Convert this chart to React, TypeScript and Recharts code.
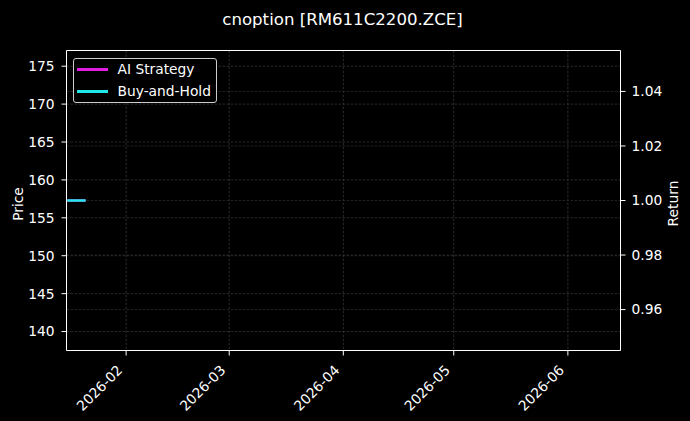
import React from 'react';
import { LineChart, Line, XAxis, YAxis, CartesianGrid, Legend, ReferenceLine } from 'recharts';

// ---- data ----
const dates = ['2026-01-16', '2026-01-19', '2026-01-20', '2026-01-21'];
const aiStrategy = [1.0, 1.0, 1.0, 1.0];
const buyAndHold = [1.0, 1.0, 1.0, 1.0];
const seriesNames = ['AI Strategy', 'Buy-and-Hold'];
const xTickLabels = ['2026-02', '2026-03', '2026-04', '2026-05', '2026-06'];
const priceTicks = [140, 145, 150, 155, 160, 165, 170, 175];
const returnTicks = [0.96, 0.98, 1.0, 1.02, 1.04];
const titleText = 'cnoption [RM611C2200.ZCE]';
const leftLabel = 'Price';
const rightLabel = 'Return';

// ---- derived ----
const data = dates.map((d, i) => ({
  t: Date.parse(d + 'T00:00:00Z'),
  ai: aiStrategy[i],
  bh: buyAndHold[i],
}));
const xTicks = xTickLabels.map((s) => Date.parse(s + '-01T00:00:00Z'));
const xDomain = [Date.parse('2026-01-15T19:12:00Z'), Date.parse('2026-06-15T07:12:00Z')];
const priceDomain = [137.5, 177.07];
const returnDomain = [0.945, 1.055];

const FONT = '"DejaVu Sans", sans-serif';
const FS = 13.8;
const COLORS = ['#e31ee3', '#1ee8e8'];

const fmtMonth = (v: number) => {
  const d = new Date(v);
  return `${d.getUTCFullYear()}-${String(d.getUTCMonth() + 1).padStart(2, '0')}`;
};

const XTick = (props: any) => {
  const { x, y, payload } = props;
  return (
    <text
      transform={`translate(${x - 2.8},${y + 15.5}) rotate(-45)`}
      textAnchor="end"
      fill="#ffffff"
      fontSize={FS}
      fontFamily={FONT}
    >
      {fmtMonth(payload.value)}
    </text>
  );
};

const LegendBox = () => (
  <div
    style={{
      border: '1px solid #cccccc',
      borderRadius: 3,
      background: '#000000',
      width: 142,
      height: 43,
      boxSizing: 'content-box',
      fontFamily: FONT,
      fontSize: FS,
      color: '#ffffff',
    }}
  >
    {seriesNames.map((n, i) => (
      <div key={n} style={{ height: 21.5, display: 'flex', alignItems: 'center' }}>
        <div style={{ width: 31, height: 3, background: COLORS[i], marginLeft: 3 }} />
        <span style={{ marginLeft: 9.5, lineHeight: '21px', whiteSpace: 'nowrap' }}>{n}</span>
      </div>
    ))}
  </div>
);

export default function App() {
  return (
    <div style={{ position: 'relative', width: 690, height: 421, background: '#000000' }}>
      <style>{`body{margin:0;background:#000;}`}</style>
      <LineChart
        width={690}
        height={421}
        data={data}
        margin={{ top: 50.5, right: 0, bottom: 0, left: 0 }}
        style={{ fontFamily: FONT }}
      >
        <CartesianGrid
          yAxisId="left"
          stroke="#363636"
          strokeDasharray="2.5 1.5"
          strokeWidth={0.8}
          horizontal
          vertical
        />
        <CartesianGrid
          yAxisId="right"
          stroke="#2a2a2a"
          strokeDasharray="2.5 1.5"
          strokeWidth={0.8}
          horizontal
          vertical={false}
        />
        <XAxis
          dataKey="t"
          type="number"
          scale="time"
          domain={xDomain}
          ticks={xTicks}
          allowDataOverflow
          height={70.5}
          stroke="#ffffff"
          tickSize={5}
          tickMargin={0}
          tick={<XTick />}
          interval={0}
        />
        <YAxis
          yAxisId="left"
          orientation="left"
          type="number"
          domain={priceDomain}
          ticks={priceTicks}
          allowDataOverflow
          width={66.5}
          stroke="#ffffff"
          tickSize={5}
          tickMargin={7}
          interval={0}
          tick={{ fill: '#ffffff', fontSize: FS, fontFamily: FONT }}
        />
        <YAxis
          yAxisId="right"
          orientation="right"
          type="number"
          domain={returnDomain}
          ticks={returnTicks}
          allowDataOverflow
          width={69.5}
          stroke="#ffffff"
          tickSize={5}
          tickMargin={6}
          interval={0}
          tickFormatter={(v: number) => v.toFixed(2)}
          tick={{ fill: '#ffffff', fontSize: FS, fontFamily: FONT }}
        />
        <ReferenceLine yAxisId="left" y={priceDomain[1]} stroke="#ffffff" strokeWidth={1} ifOverflow="extendDomain" />
        <Line
          yAxisId="right"
          dataKey="ai"
          name={seriesNames[0]}
          stroke={COLORS[0]}
          strokeWidth={2.5}
          dot={false}
          isAnimationActive={false}
        />
        <Line
          yAxisId="right"
          dataKey="bh"
          name={seriesNames[1]}
          stroke={COLORS[1]}
          strokeWidth={2.5}
          dot={false}
          isAnimationActive={false}
        />
        <Legend
          layout="vertical"
          align="center"
          verticalAlign="middle"
          content={() => <LegendBox />}
          wrapperStyle={{ left: 73, top: 58, width: 'auto', height: 'auto' }}
        />
      </LineChart>
      <svg
        width={690}
        height={421}
        style={{ position: 'absolute', left: 0, top: 0, pointerEvents: 'none' }}
      >
        <text x={342.5} y={24.5} textAnchor="middle" fill="#ffffff" fontSize={16.6} fontFamily={FONT}>
          {titleText}
        </text>
        <text
          transform="translate(22.5,204) rotate(-90)"
          textAnchor="middle"
          fill="#ffffff"
          fontSize={FS}
          fontFamily={FONT}
        >
          {leftLabel}
        </text>
        <text
          transform="translate(677.5,203.5) rotate(-90)"
          textAnchor="middle"
          fill="#ffffff"
          fontSize={FS}
          fontFamily={FONT}
        >
          {rightLabel}
        </text>
      </svg>
    </div>
  );
}
